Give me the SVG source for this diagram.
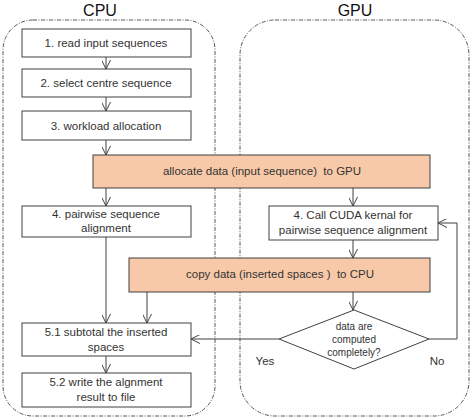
<svg xmlns="http://www.w3.org/2000/svg" width="472" height="419" viewBox="0 0 472 419">
<style>
.cont{fill:none;stroke:#555;stroke-width:1;stroke-dasharray:4 1.5 1 1.5}
.box{fill:#fff;stroke:#404040;stroke-width:1}
.obox{fill:#F8C9A9;stroke:#404040;stroke-width:1}
.t{font-family:"Liberation Sans",Arial,sans-serif;font-size:11.5px;fill:#333;text-anchor:middle;white-space:pre}
.s{font-size:10px}
.title{font-family:"Liberation Sans",Arial,sans-serif;font-size:16px;fill:#111;text-anchor:middle}
.c{fill:none;stroke:#404040;stroke-width:1}
</style>
<defs>
<marker id="arr" viewBox="0 0 10 10" refX="10" refY="5" markerWidth="9" markerHeight="9" markerUnits="userSpaceOnUse" orient="auto">
<path d="M0,0 L10,5 L0,10" fill="none" stroke="#404040" stroke-width="1.1"/>
</marker>
</defs>
<g id="cpu-container">
<rect class="cont" x="3" y="20" width="212" height="396" rx="30"/>
<text class="title" x="100" y="16">CPU</text>
</g>
<g id="gpu-container">
<rect class="cont" x="240" y="20" width="229" height="396" rx="35"/>
<text class="title" x="355" y="16">GPU</text>
</g>
<g id="connectors">
<line class="c" x1="106" y1="57" x2="106" y2="69" marker-end="url(#arr)"/>
<line class="c" x1="106" y1="97" x2="106" y2="111" marker-end="url(#arr)"/>
<line class="c" x1="106" y1="140" x2="106" y2="155" marker-end="url(#arr)"/>
<line class="c" x1="106" y1="188" x2="106" y2="206" marker-end="url(#arr)"/>
<line class="c" x1="353" y1="188" x2="353" y2="206" marker-end="url(#arr)"/>
<line class="c" x1="353" y1="240" x2="353" y2="258" marker-end="url(#arr)"/>
<line class="c" x1="353" y1="292" x2="353" y2="310" marker-end="url(#arr)"/>
<line class="c" x1="106" y1="237" x2="106" y2="323" marker-end="url(#arr)"/>
<line class="c" x1="147" y1="292" x2="147" y2="323" marker-end="url(#arr)"/>
<line class="c" x1="106" y1="356" x2="106" y2="373" marker-end="url(#arr)"/>
<line class="c" x1="279" y1="339" x2="191" y2="339" marker-end="url(#arr)"/>
<polyline class="c" points="429,339 457,339 457,223 438,223" marker-end="url(#arr)"/>
<text class="t" x="265" y="365">Yes</text>
<text class="t" x="437" y="365">No</text>
</g>
<g id="n1">
<rect class="box" x="22" y="29" width="169" height="28"/>
<text class="t" x="106" y="47">1. read input sequences</text>
</g>
<g id="n2">
<rect class="box" x="22" y="69" width="169" height="28"/>
<text class="t" x="106" y="87">2. select centre sequence</text>
</g>
<g id="n3">
<rect class="box" x="22" y="111" width="169" height="29"/>
<text class="t" x="106" y="130">3. workload allocation</text>
</g>
<g id="n-alloc">
<rect class="obox" x="93" y="155" width="337" height="33"/>
<text class="t" x="262" y="175" xml:space="preserve">allocate data (input sequence)  to GPU</text>
</g>
<g id="n4cpu">
<rect class="box" x="22" y="206" width="169" height="31"/>
<text class="t" x="106" y="218">4. pairwise sequence</text>
<text class="t" x="106" y="232">alignment</text>
</g>
<g id="n4gpu">
<rect class="box" x="269" y="206" width="169" height="34"/>
<text class="t" x="353" y="219">4. Call CUDA kernal for</text>
<text class="t" x="353" y="234">pairwise sequence alignment</text>
</g>
<g id="n-copy">
<rect class="obox" x="129" y="258" width="301" height="34"/>
<text class="t" x="280" y="278" xml:space="preserve">copy data (inserted spaces )  to CPU</text>
</g>
<g id="n-decision">
<polygon class="box" points="354,310 429,339 354,369 279,339"/>
<text class="t s" x="354" y="330">data are</text>
<text class="t s" x="354" y="343">computed</text>
<text class="t s" x="354" y="356">completely?</text>
</g>
<g id="n51">
<rect class="box" x="22" y="323" width="169" height="33"/>
<text class="t" x="106" y="336">5.1 subtotal the inserted</text>
<text class="t" x="106" y="351">spaces</text>
</g>
<g id="n52">
<rect class="box" x="22" y="373" width="169" height="34"/>
<text class="t" x="106" y="386">5.2 write the algnment</text>
<text class="t" x="106" y="401">result to file</text>
</g>
</svg>
